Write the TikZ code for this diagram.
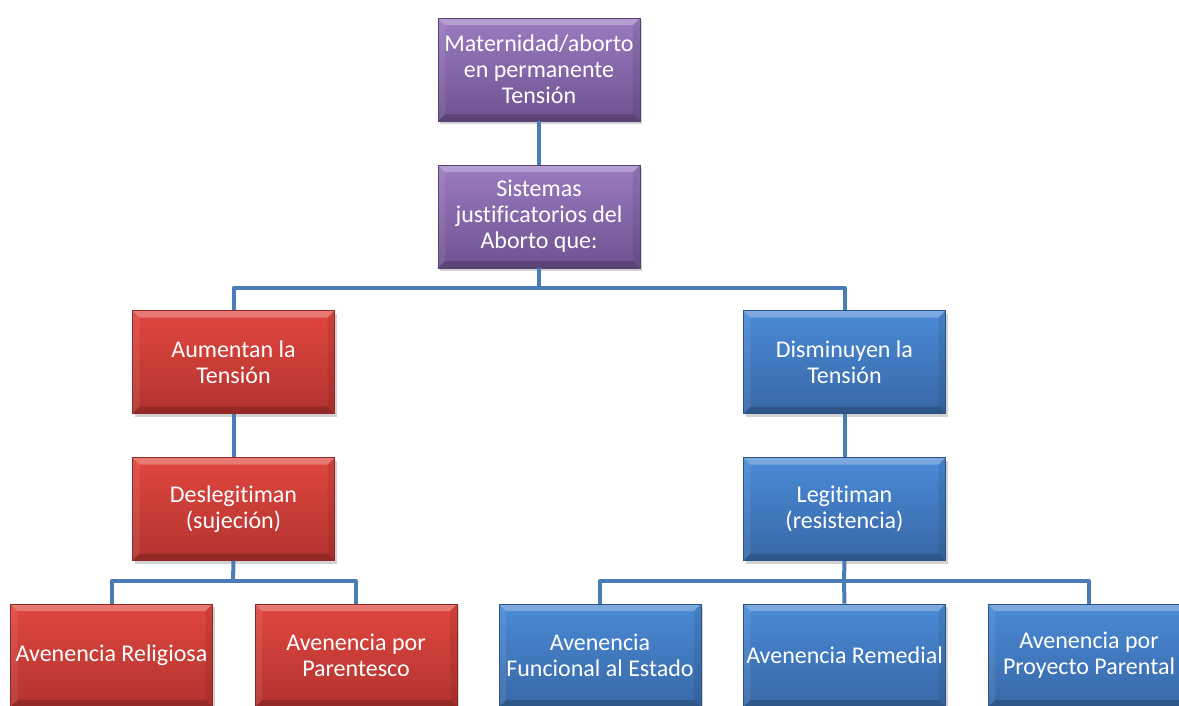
\documentclass[tikz,border=0pt]{standalone}
\usepackage{fontspec}
\setmainfont[Ligatures={NoCommon}]{Carlito}
\usetikzlibrary{shadows}
\definecolor{conn}{HTML}{4A7CB8}
\definecolor{purT}{HTML}{9A7CC0}
\definecolor{purB}{HTML}{6E5290}
\definecolor{redT}{HTML}{E0473F}
\definecolor{redB}{HTML}{B3332F}
\definecolor{bluT}{HTML}{4A8AD6}
\definecolor{bluB}{HTML}{3868A6}
\tikzset{
  bevel/.style={path picture={
    \fill[white,opacity=0.28] (path picture bounding box.north west) -- (path picture bounding box.north east)
      -- ([xshift=-7pt,yshift=-7pt]path picture bounding box.north east) -- ([xshift=7pt,yshift=-7pt]path picture bounding box.north west) -- cycle;
    \fill[black,opacity=0.18] (path picture bounding box.south west) -- (path picture bounding box.south east)
      -- ([xshift=-7pt,yshift=7pt]path picture bounding box.south east) -- ([xshift=7pt,yshift=7pt]path picture bounding box.south west) -- cycle;
    \fill[black,opacity=0.08] (path picture bounding box.north east) -- (path picture bounding box.south east)
      -- ([xshift=-7pt,yshift=7pt]path picture bounding box.south east) -- ([xshift=-7pt,yshift=-7pt]path picture bounding box.north east) -- cycle;
    \fill[white,opacity=0.08] (path picture bounding box.north west) -- (path picture bounding box.south west)
      -- ([xshift=7pt,yshift=7pt]path picture bounding box.south west) -- ([xshift=7pt,yshift=-7pt]path picture bounding box.north west) -- cycle;
  }},
  box/.style={rectangle, minimum width=202pt, minimum height=103pt, inner sep=2pt,
    align=center, text=white, font=\fontsize{24}{26}\selectfont, bevel,
    drop shadow={shadow xshift=2pt, shadow yshift=-3pt, opacity=0.35}},
  purbox/.style={box, top color=purT, bottom color=purB, draw=purB!80!black, line width=0.6pt},
  redbox/.style={box, top color=redT, bottom color=redB, draw=redB!80!black, line width=0.6pt},
  blubox/.style={box, top color=bluT, bottom color=bluB, draw=bluB!80!black, line width=0.6pt},
  link/.style={draw=conn, line width=4pt, line join=round}
}
\begin{document}
\begin{tikzpicture}[x=1pt,y=-1pt]
\useasboundingbox (0,0) rectangle (1179,705);
\clip (0,0) rectangle (1179,705);
\fill[white] (0,0) rectangle (1179,705);
\coordinate (j1) at (539,288);
\coordinate (j2) at (233,581);
\coordinate (j3) at (844,581);
\node[purbox] (top) at (539,69.5) {Maternidad/aborto\\en permanente\\Tensión};
\node[purbox] (sis) at (539,216.5) {Sistemas\\justificatorios del\\Aborto que:};
\node[redbox] (aum) at (233.5,362) {Aumentan la\\Tensión};
\node[blubox] (dis) at (844.5,362) {Disminuyen la\\Tensión};
\node[redbox] (des) at (233.5,509) {Deslegitiman\\(sujeción)};
\node[blubox] (leg) at (844.5,509) {Legitiman\\(resistencia)};
\node[redbox] (rel) at (111.5,655.5) {Avenencia Religiosa};
\node[redbox] (par) at (356,655.5) {Avenencia por\\Parentesco};
\node[blubox] (fun) at (600,655.5) {Avenencia\\Funcional al Estado};
\node[blubox] (rem) at (844.5,655.5) {Avenencia Remedial};
\node[blubox] (pro) at (1089,655.5) {Avenencia por\\Proyecto Parental};
\draw[link] (top.south) -- (sis.north);
\draw[link] (sis.south) -- (j1);
\draw[link] (aum.north) |- (j1) -| (dis.north);
\draw[link] (aum.south) -- (des.north);
\draw[link] (dis.south) -- (leg.north);
\draw[link] (des.south) -- (j2);
\draw[link] (rel.north) |- (j2) -| (par.north);
\draw[link] (leg.south) -- (j3);
\draw[link] (fun.north) |- (j3) -| (pro.north);
\draw[link] (j3) -- (rem.north);
\end{tikzpicture}
\end{document}
